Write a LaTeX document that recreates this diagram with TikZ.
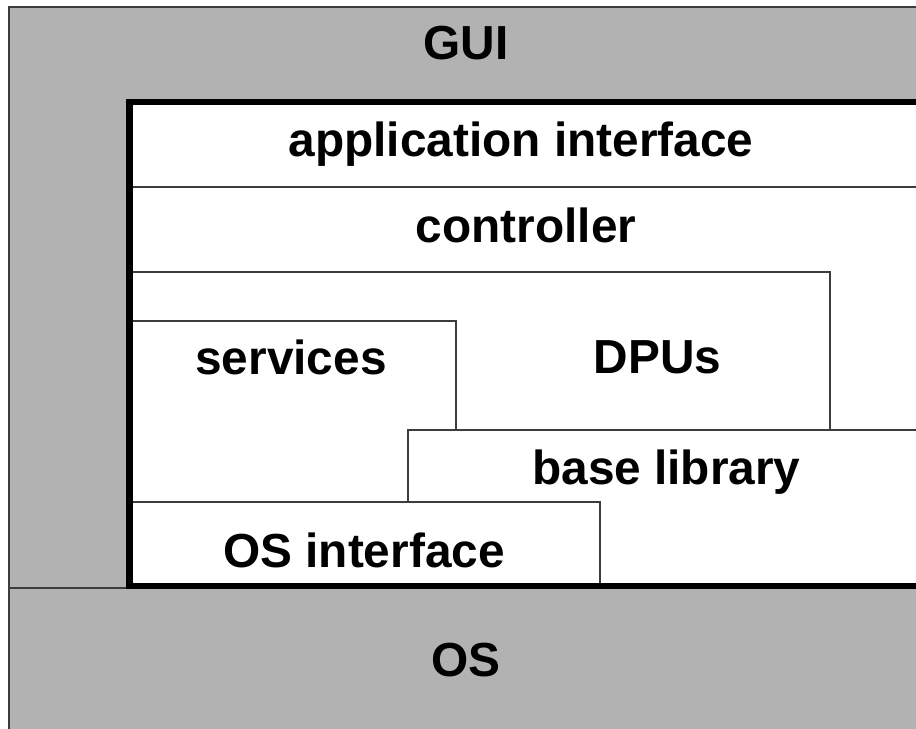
\documentclass[tikz,border=0pt]{standalone}
\usepackage{fontspec}
\setmainfont{Liberation Sans}
\usetikzlibrary{positioning}
\definecolor{cshade}{HTML}{B2B2B2}
\definecolor{cline}{HTML}{3C3C3C}
\tikzset{
  every picture/.style={font=\bfseries\fontsize{34}{40}\selectfont},
  layer/.style={draw=cline, fill=#1, line width=1.1pt},
  layer/.default=white,
  frame/.style={draw=black, line width=4.3pt},
  label/.style={anchor=base, inner sep=0pt},
}

\begin{document}
\begin{tikzpicture}
  \useasboundingbox (0,0) rectangle (22.9,18.225);
  \clip (0,0) rectangle (22.9,18.225);
  % outer layers
  \draw[layer=cshade] (0.225,3.525) rectangle (23.5,18.05);
  \draw[layer=cshade] (0.225,-0.5) rectangle (23.5,3.525);
  % application stack, drawn back to front
  \draw[layer] (3.25,13.55) rectangle (23.5,15.675);
  \draw[layer] (3.25,7.475) rectangle (23.5,13.55);
  \draw[layer] (3.25,7.475) rectangle (20.75,11.425);
  \draw[layer] (3.25,5.675) rectangle (11.4,10.2);
  \draw[layer] (10.2,3.575) rectangle (23.5,7.475);
  \draw[layer] (3.25,3.575) rectangle (15.0,5.675);
  \draw[frame] (3.2375,3.575) rectangle (23.5,15.675);
  % names
  \node[label] (gui) at (11.65,16.725) {GUI};
  \node[label] (appif) at (13.025,14.3) {application interface};
  \node[label] (ctrl) at (13.15,12.15) {controller};
  \node[label] (serv) at (7.275,8.85) {services};
  \node[label] (dpus) at (16.44,8.875) {DPUs};
  \node[label] (baselib) at (16.66,6.1) {base library};
  \node[label] (osif) at (9.1,4.025) {OS interface};
  \node[label] (os) at (11.64,1.3) {OS};
\end{tikzpicture}
\end{document}
